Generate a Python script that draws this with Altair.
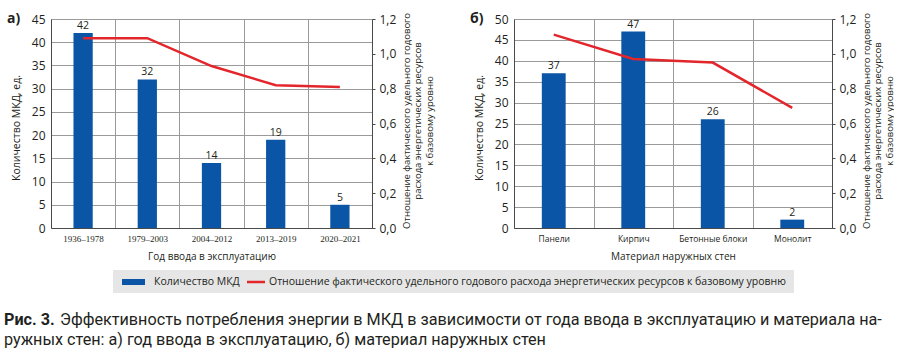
import altair as alt
import pandas as pd

# ---------------- data ----------------
years = ["1936–1978", "1979–2003", "2004–2012", "2013–2019", "2020–2021"]
counts_a = [42, 32, 14, 19, 5]
ratio_a = [1.09, 1.09, 0.93, 0.82, 0.81]

materials = ["Панели", "Кирпич", "Бетонные блоки", "Монолит"]
counts_b = [37, 47, 26, 2]
ratio_b = [1.11, 0.97, 0.95, 0.69]

left_ticks_a = [0, 5, 10, 15, 20, 25, 30, 35, 40, 45]
left_ticks_b = [0, 5, 10, 15, 20, 25, 30, 35, 40, 45, 50]
right_ticks = [0.0, 0.2, 0.4, 0.6, 0.8, 1.0, 1.2]

y_title = "Количество МКД, ед."
right_title = ["Отношение фактического удельного годового",
               "расхода энергетических ресурсов",
               "к базовому уровню"]
legend_bar = "Количество МКД"
legend_line = "Отношение фактического удельного годового расхода энергетических ресурсов к базовому уровню"
caption_bold = "Рис. 3."
caption_l1 = "Эффективность потребления энергии в МКД в зависимости от года ввода в эксплуатацию и материала на-"
caption_l2 = "ружных стен: а) год ввода в эксплуатацию, б) материал наружных стен"

FONT = "Open Sans"
CAP_FONT = "Roboto"
BLUE = "#0a55a6"
RED = "#e3262b"
GRID = "#9a9a9a"
DOMAIN = "#4a4a4a"
TEXT = "#231f20"
H = 209


def txt(text, x, y, size, font=FONT, weight="normal", align="left", baseline="middle", color=TEXT):
    return alt.Chart(pd.DataFrame({"t": [text]})).mark_text(
        font=font, fontSize=size, fontWeight=weight, align=align, baseline=baseline, color=color
    ).encode(x=alt.value(x), y=alt.value(y), text="t:N")


def panel(cats, counts, ratios, ymax, yticks, xtitle, label_font, label_size, letter, width, extra):
    df = pd.DataFrame({"cat": cats, "count": counts, "ratio": ratios})
    xenc = alt.X(
        "cat:N", sort=cats, title=xtitle,
        scale=alt.Scale(paddingInner=0, paddingOuter=0),
        axis=alt.Axis(labelAngle=0, ticks=False, grid=True, tickBand="extent",
                      gridColor=GRID, gridWidth=1, domainColor=DOMAIN, domainWidth=1,
                      labelFont=label_font, labelFontSize=label_size, labelColor=TEXT,
                      labelPadding=6, titleFont=FONT, titleFontSize=10,
                      titleFontWeight="normal", titleColor=TEXT,
                      titleY=28, titleBaseline="middle"),
    )
    bars = alt.Chart(df).mark_bar(color=BLUE, width=alt.RelativeBandSize(0.3)).encode(
        x=xenc,
        y=alt.Y("count:Q", scale=alt.Scale(domain=[0, ymax], nice=False),
                axis=alt.Axis(values=yticks, grid=True, ticks=False, gridColor=GRID,
                              gridWidth=1, domainColor=DOMAIN, domainWidth=1,
                              labelFont=FONT, labelFontSize=12, labelColor=TEXT,
                              labelPadding=6, title=y_title, titleFont=FONT,
                              titleFontSize=10.5, titleFontWeight="normal", titleColor=TEXT,
                              titleAngle=270, titleX=-35, titleY=H / 2 + 4,
                              titleAlign="center", titleBaseline="middle")),
    )
    labels = bars.mark_text(baseline="bottom", dy=-2, font=FONT, fontSize=10.5, color=TEXT).encode(
        text="count:Q")
    line = alt.Chart(df).mark_line(color=RED, strokeWidth=2.5).encode(
        x=xenc,
        y=alt.Y("ratio:Q", scale=alt.Scale(domain=[0, 1.2], nice=False),
                axis=alt.Axis(orient="right", values=right_ticks, grid=False, ticks=True,
                              tickSize=3, tickColor=DOMAIN, domainColor=DOMAIN, domainWidth=1,
                              labelExpr="replace(format(datum.value, '.1f'), '.', ',')",
                              labelFont=FONT, labelFontSize=12, labelColor=TEXT,
                              labelPadding=4, title=right_title, titleFont=FONT,
                              titleFontSize=9.5, titleFontWeight="normal", titleColor=TEXT,
                              titleAngle=270, titleX=29, titleY=H / 2 - 3,
                              titleAlign="center", titleBaseline="top", titleLineHeight=11.5)),
    )
    let = txt(letter, -44, 0, 14, weight="bold")
    return alt.layer(alt.layer(bars, labels), line, let, *extra).resolve_scale(
        y="independent").properties(width=width, height=H)


# invisible anchor fixing the top-left corner of the page
anchor = alt.Chart(pd.DataFrame({"a": [0]})).mark_rect(opacity=0).encode(
    x=alt.value(-50), x2=alt.value(-49), y=alt.value(-18), y2=alt.value(-17))

legend_box = alt.Chart(pd.DataFrame({"a": [0]})).mark_rect(color="#e6e6e6").encode(
    x=alt.value(62), x2=alt.value(743), y=alt.value(251), y2=alt.value(274))
legend_swatch = alt.Chart(pd.DataFrame({"a": [0]})).mark_rect(color=BLUE).encode(
    x=alt.value(71), x2=alt.value(94), y=alt.value(260), y2=alt.value(266))
legend_rule = alt.Chart(pd.DataFrame({"a": [0]})).mark_rule(color=RED, strokeWidth=2.5).encode(
    x=alt.value(196), x2=alt.value(214), y=alt.value(263))
footer = [
    anchor, legend_box, legend_swatch, legend_rule,
    txt(legend_bar, 103, 263, 10.5),
    txt(legend_line, 218, 263, 10.5),
    txt(caption_bold, -47, 301, 16.2, font=CAP_FONT, weight="bold"),
    txt(caption_l1, -47 + 56, 301, 16.2, font=CAP_FONT),
    txt(caption_l2, -47, 321, 16.2, font=CAP_FONT),
]

pa = panel(years, counts_a, ratio_a, 45, left_ticks_a, "Год ввода в эксплуатацию",
           "Liberation Serif", 9, "а)", 321, footer)
pb = panel(materials, counts_b, ratio_b, 50, left_ticks_b, "Материал наружных стен",
           FONT, 8.5, "б)", 318, [])

chart = alt.hconcat(pa, pb, spacing=142, bounds="flush").properties(
    padding=0
).configure_view(stroke=None).configure(background="white")

chart.save("out.html", embed_options={"renderer": "svg", "actions": False})
